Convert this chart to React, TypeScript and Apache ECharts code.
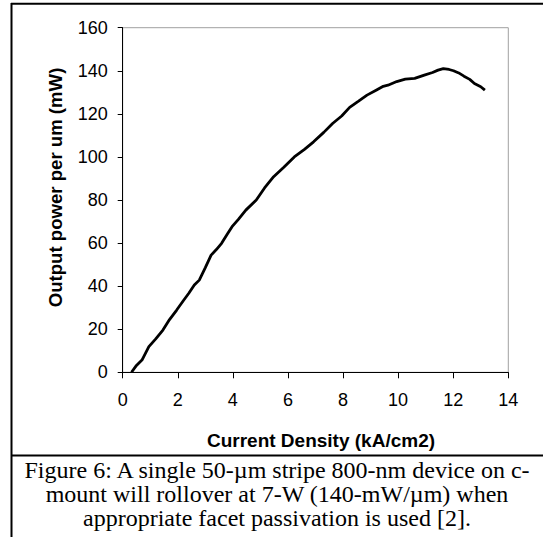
import React, { useEffect, useRef } from "react";
import * as echarts from "echarts";

const currentDensity = [0.32, 0.5, 0.7, 0.95, 1.2, 1.46, 1.7, 1.96, 2.2, 2.4, 2.6, 2.78, 3.0, 3.21, 3.4, 3.59, 3.8, 3.97, 4.2, 4.47, 4.85, 5.15, 5.48, 5.85, 6.23, 6.6, 6.93, 7.3, 7.62, 7.95, 8.24, 8.55, 8.87, 9.2, 9.46, 9.63, 9.95, 10.26, 10.6, 10.95, 11.25, 11.45, 11.64, 11.85, 12.01, 12.2, 12.39, 12.6, 12.77, 13.0, 13.15];
const outputPower = [0, 3.2, 5.7, 11.9, 15.5, 19.6, 24.5, 28.9, 33.2, 36.7, 40.5, 42.8, 48.6, 54.4, 57.0, 59.9, 64.2, 67.6, 71.0, 75.3, 80, 85.6, 90.8, 95.2, 100, 103.5, 107, 111.4, 115.5, 119.0, 123.0, 125.8, 128.7, 131.0, 132.8, 133.3, 135.0, 136.1, 136.5, 138.0, 139.2, 140.3, 141.0, 140.6, 140.0, 139.0, 137.5, 136.0, 134.1, 132.6, 131.0];

const xTitle = "Current Density (kA/cm2)";
const yTitle = "Output power per um (mW)";
const captionLines = [
  "Figure 6: A single 50-µm stripe 800-nm device on c-",
  "mount will rollover at 7-W (140-mW/µm) when",
  "appropriate facet passivation is used [2].",
];

export default function App() {
  const ref = useRef<HTMLDivElement>(null);
  useEffect(() => {
    if (!ref.current) return;
    const chart = echarts.init(ref.current, null, { renderer: "svg" });
    const family = "Arial, 'Liberation Sans', sans-serif";
    const axisFont = { fontFamily: family, fontSize: 18, color: "#000" };
    chart.setOption({
      animation: false,
      backgroundColor: "#fff",
      grid: {
        left: 122.7,
        right: 34.7,
        top: 27.7,
        bottom: 164.7,
        show: true,
        borderColor: "#a0a0a0",
        borderWidth: 1,
        backgroundColor: "transparent",
      },
      xAxis: {
        type: "value",
        min: 0,
        max: 14,
        interval: 2,
        axisLine: { show: true, lineStyle: { color: "#000", width: 1 } },
        axisTick: { show: true, length: 6, lineStyle: { color: "#000" } },
        axisLabel: { ...axisFont, margin: 19 },
        splitLine: { show: false },
      },
      yAxis: {
        type: "value",
        min: 0,
        max: 160,
        interval: 20,
        axisLine: { show: true, lineStyle: { color: "#000", width: 1 } },
        axisTick: { show: true, length: 5, lineStyle: { color: "#000" } },
        axisLabel: { ...axisFont, margin: 15 },
        splitLine: { show: false },
      },
      series: [
        {
          type: "line",
          data: currentDensity.map((x, i) => [x, outputPower[i]]),
          showSymbol: false,
          lineStyle: { color: "#000", width: 2.8 },
        },
      ],
      graphic: [
        { type: "line", shape: { x1: 11, y1: 3.7, x2: 543, y2: 3.7 }, style: { stroke: "#000", lineWidth: 2 } },
        { type: "line", shape: { x1: 11.5, y1: 3, x2: 11.5, y2: 537 }, style: { stroke: "#000", lineWidth: 2 } },
        { type: "line", shape: { x1: 11, y1: 455.5, x2: 543, y2: 455.5 }, style: { stroke: "#000", lineWidth: 2 } },
        {
          type: "text",
          x: 321,
          y: 440,
          style: {
            text: xTitle,
            fill: "#000",
            font: `bold 19px ${family}`,
            textAlign: "center",
            textVerticalAlign: "middle",
          },
        },
        {
          type: "text",
          x: 55,
          y: 187.5,
          rotation: Math.PI / 2,
          style: {
            text: yTitle,
            fill: "#000",
            font: `bold 18.6px ${family}`,
            textAlign: "center",
            textVerticalAlign: "middle",
          },
        },
        ...captionLines.map((t, i) => ({
          type: "text",
          x: 277,
          y: 470 + i * 24,
          style: {
            text: t,
            fill: "#000",
            font: "24px 'Liberation Serif', 'Times New Roman', serif",
            textAlign: "center",
            textVerticalAlign: "middle",
          },
        })),
      ],
    });
    return () => chart.dispose();
  }, []);
  return <div ref={ref} style={{ position: "absolute", left: 0, top: 0, width: 543, height: 537 }} />;
}
